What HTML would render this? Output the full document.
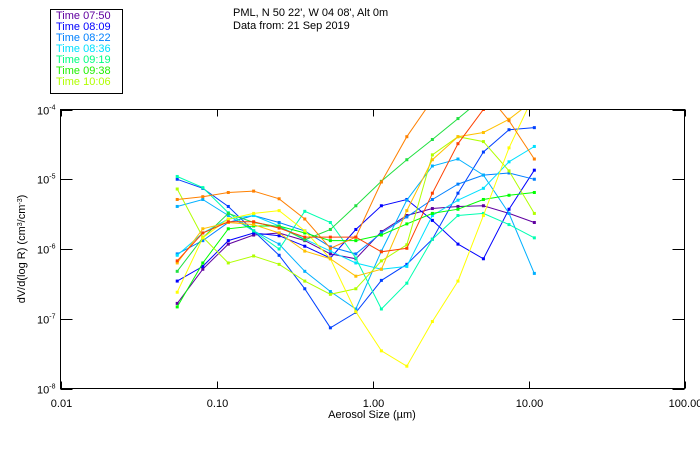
<!DOCTYPE html>
<html><head><meta charset="utf-8"><style>
body{margin:0;background:#fff;}
svg{display:block;font-family:"Liberation Sans",sans-serif;}
</style></head><body>
<svg id="chart" width="700" height="450" viewBox="0 0 700 450">
<rect x="0" y="0" width="700" height="450" fill="#fff"/>
<g>
<rect x="50.5" y="9.5" width="72" height="84" fill="#fff" stroke="#000"/>
<g font-size="11">
<text x="56" y="19" fill="#6000a0">Time 07:50</text>
<text x="56" y="30" fill="#0000ff">Time 08:09</text>
<text x="56" y="41" fill="#0080ff">Time 08:22</text>
<text x="56" y="52" fill="#00e0ff">Time 08:36</text>
<text x="56" y="63" fill="#00ff80">Time 09:19</text>
<text x="56" y="74" fill="#20f000">Time 09:38</text>
<text x="56" y="85" fill="#b0ff00">Time 10:06</text>
</g></g>
<text x="233" y="16" font-size="11">PML, N 50 22', W 04 08', Alt 0m</text>
<text x="233" y="29" font-size="11">Data from: 21 Sep 2019</text>
<defs><clipPath id="plotclip"><rect x="60" y="109" width="625" height="280"/></clipPath></defs>
<g id="axes"></g>
<g id="series" clip-path="url(#plotclip)"></g>
<rect x="60.5" y="109.5" width="624" height="279" fill="none" stroke="#000"/>
<text x="372" y="418" font-size="11" text-anchor="middle">Aerosol Size (µm)</text>
<text transform="translate(25,249) rotate(-90)" font-size="11" text-anchor="middle">dV/d(log R) (cm<tspan baseline-shift="super" font-size="7">3</tspan>/cm<tspan baseline-shift="super" font-size="7">-3</tspan>)</text>
</svg>
<script>
// particle size bins (µm)
const sizes = [0.056,0.0817,0.119,0.173,0.252,0.368,0.537,0.782,1.14,1.66,2.42,3.53,5.14,7.50,10.9];
const xTickValues = [0.01,0.1,1,10,100];
const xTickLabels = ["0.01","0.10","1.00","10.00","100.00"];
const yTickExps = [-4,-5,-6,-7,-8];
const seriesColors = ["#6000a0","#0000ff","#0040ff","#0080ff","#00b0ff","#00e0ff","#00ffb0","#00ff00","#20e040","#b0ff00","#ffff00","#ffc000","#ff8000","#ff4000"];
// log10 of dV/d(log R) for each scan
const logDV0 = [-6.78,-6.29,-5.93,-5.80,-5.77,-5.88,-6.07,-6.14,-5.75,-5.52,-5.42,-5.39,-5.38,-5.49,-5.62];
const logDV1 = [-6.46,-6.25,-5.88,-5.77,-5.81,-5.96,-6.13,-5.72,-5.38,-5.29,-5.59,-5.93,-6.14,-5.43,-4.87];
const logDV2 = [-5.00,-5.13,-5.39,-5.74,-6.09,-6.57,-7.13,-6.91,-6.45,-6.22,-5.86,-5.20,-4.61,-4.29,-4.26];
const logDV3 = [-6.07,-5.88,-5.62,-5.52,-5.62,-5.74,-5.97,-6.07,-5.77,-5.54,-5.29,-5.07,-4.94,-4.91,-5.00];
const logDV4 = [-5.39,-5.29,-5.52,-5.74,-5.93,-6.32,-6.61,-6.86,-6.03,-5.30,-4.81,-4.71,-4.94,-5.49,-6.35];
const logDV5 = [-6.09,-5.77,-5.57,-5.52,-5.67,-5.86,-6.03,-6.20,-6.29,-6.25,-5.52,-5.30,-5.13,-4.75,-4.53];
const logDV6 = [-4.96,-5.12,-5.48,-5.74,-6.00,-5.46,-5.62,-6.13,-6.86,-6.49,-5.86,-5.52,-5.49,-5.65,-5.84];
const logDV7 = [-6.83,-6.20,-5.71,-5.67,-5.67,-5.77,-5.88,-5.88,-5.80,-5.64,-5.49,-5.43,-5.29,-5.23,-5.19];
const logDV8 = [-6.32,-5.84,-5.49,-5.62,-5.68,-5.87,-5.72,-5.38,-5.03,-4.72,-4.43,-4.13,-3.83,-3.57,-3.28];
const logDV9 = [-5.14,-5.83,-6.20,-6.10,-6.22,-6.46,-6.65,-6.57,-6.17,-5.94,-4.65,-4.39,-4.46,-4.88,-5.49];
const logDV10 = [-6.62,-5.84,-5.57,-5.49,-5.45,-5.74,-6.14,-6.90,-7.46,-7.68,-7.04,-6.46,-5.52,-4.55,-3.78];
const logDV11 = [-6.20,-5.71,-5.62,-5.65,-5.77,-6.03,-6.14,-6.39,-6.29,-5.45,-4.72,-4.39,-4.33,-4.14,-3.86];
const logDV12 = [-5.29,-5.25,-5.19,-5.17,-5.28,-5.57,-5.99,-5.83,-5.04,-4.39,-3.86,-3.57,-3.71,-4.16,-4.71];
const logDV13 = [-6.17,-5.77,-5.61,-5.61,-5.70,-5.83,-5.83,-5.83,-6.04,-5.99,-5.20,-4.49,-4.00,-3.64,-3.42];
const allSeries = [logDV0,logDV1,logDV2,logDV3,logDV4,logDV5,logDV6,logDV7,logDV8,logDV9,logDV10,logDV11,logDV12,logDV13];

const NS="http://www.w3.org/2000/svg";
const X0=60.5,X1=684.5,Y0=109.5,Y1=388.5;
function xScale(v){return X0+(Math.log10(v)+2)/4*(X1-X0);}
function yScale(e){return Y0+(-4-e)/4*(Y1-Y0);}
function mk(tag,attrs,parent){const el=document.createElementNS(NS,tag);for(const k in attrs)el.setAttribute(k,attrs[k]);parent.appendChild(el);return el;}
const axes=document.getElementById('axes');
xTickValues.forEach((v,i)=>{
  const x=Math.round(xScale(v))+0.5;
  const t1=mk('line',{x1:x,x2:x,y1:388.5,y2:381.5,stroke:'#000'},axes);
  
  
  const t2=mk('line',{x1:x,x2:x,y1:109.5,y2:116.5,stroke:'#000'},axes);
  
  
  const tx=mk('text',{x:x,y:407,'font-size':11,'text-anchor':'middle'},axes);
  tx.textContent=xTickLabels[i];
  
  
});
yTickExps.forEach(e=>{
  const y=Math.round(yScale(e))+0.5;
  const t1=mk('line',{x1:60.5,x2:72.5,y1:y,y2:y,stroke:'#000'},axes);
  
  
  const t2=mk('line',{x1:684.5,x2:672.5,y1:y,y2:y,stroke:'#000'},axes);
  
  
  const tx=mk('text',{x:37,y:y+4,'font-size':11},axes);
  tx.innerHTML='10<tspan dy="-5" font-size="7">'+e+'</tspan>';
  
  
});
const sg=document.getElementById('series');
allSeries.forEach((s,si)=>{
  const g=mk('g',{},sg);
  
  
  const pts=s.map((e,i)=>xScale(sizes[i]).toFixed(1)+','+yScale(e).toFixed(1)).join(' ');
  const pl=mk('polyline',{points:pts,fill:'none',stroke:seriesColors[si],'stroke-width':1},g);
  
  
  s.forEach((e,i)=>{
    const r=mk('rect',{x:xScale(sizes[i])-1.5,y:yScale(e)-1.5,width:3,height:3,fill:seriesColors[si]},g);
    
    
  });
});
</script>
</body></html>
